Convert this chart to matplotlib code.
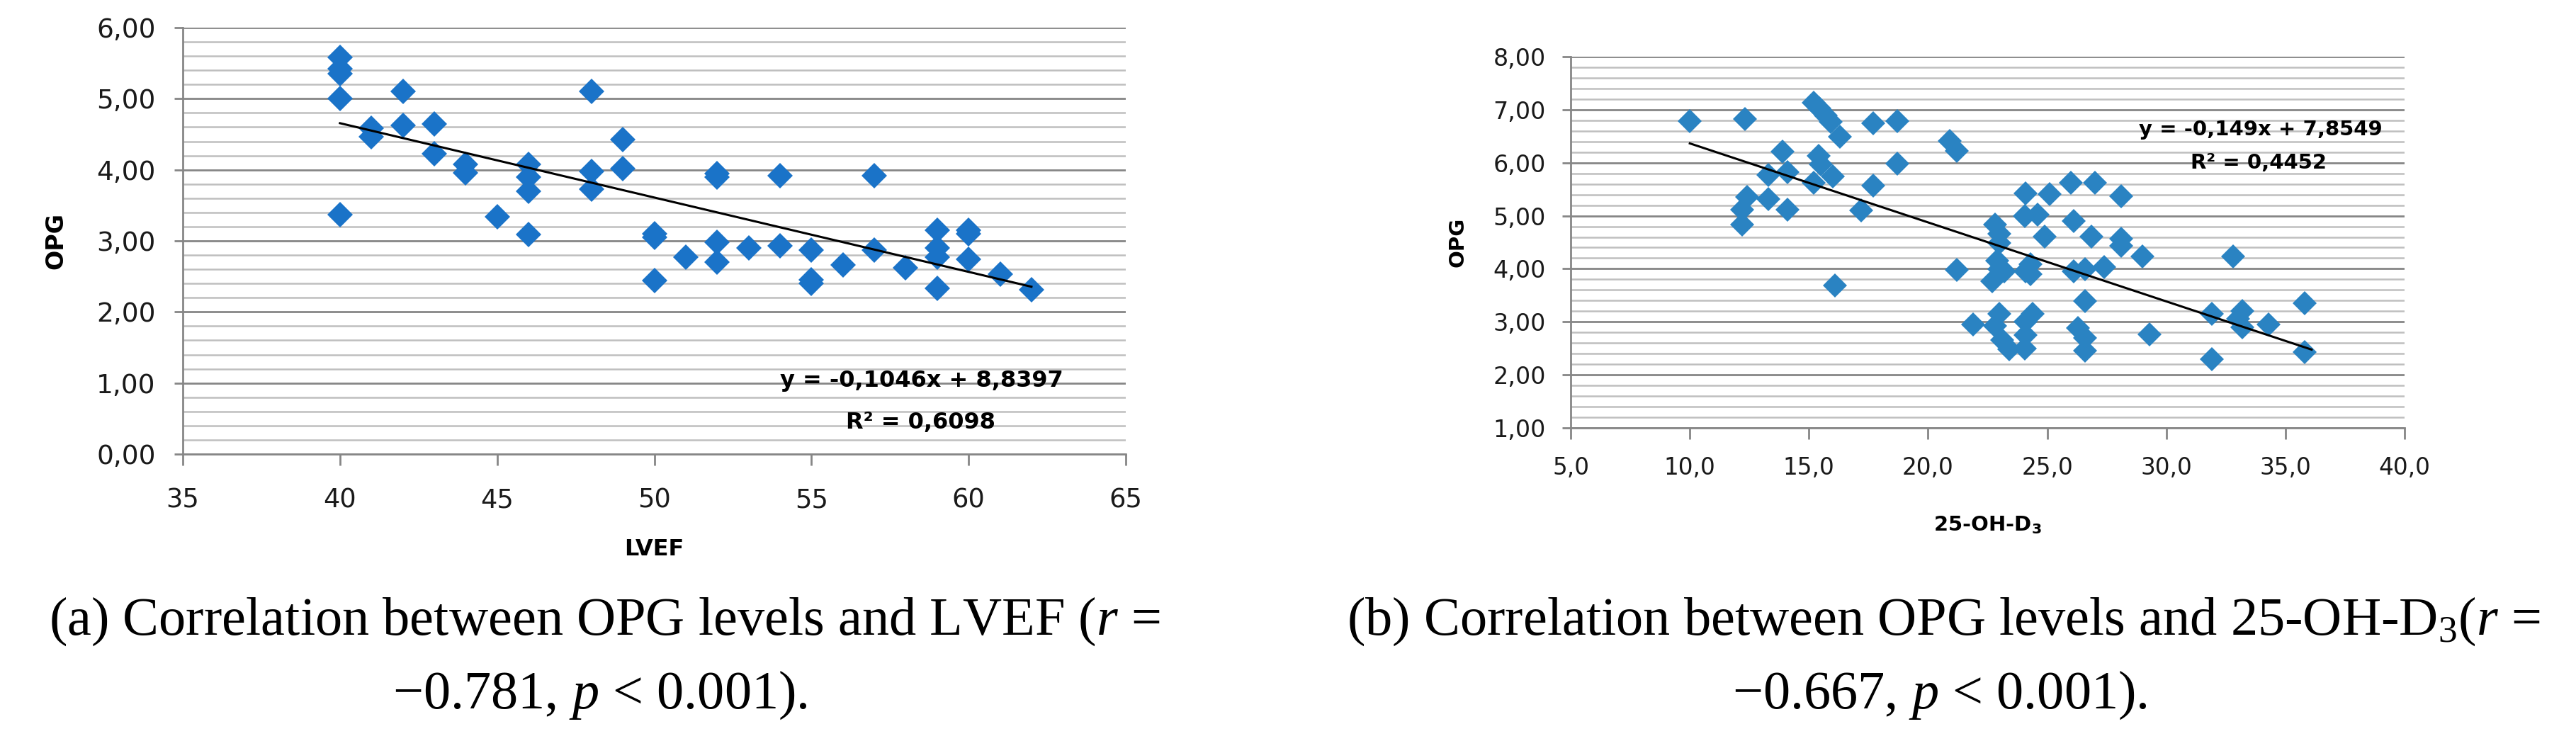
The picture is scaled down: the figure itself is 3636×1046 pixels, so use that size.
import matplotlib.pyplot as plt
from matplotlib.ticker import MultipleLocator, FuncFormatter

# (a) OPG vs LVEF
lvef = [40, 40, 40, 40, 40, 41, 41, 42, 42, 43, 43, 44, 44, 45, 46, 46, 46, 46,
        48, 48, 48, 49, 49, 50, 50, 50, 51, 52, 52, 52, 52, 53, 54, 54, 55, 55, 55,
        56, 57, 57, 58, 59, 59, 59, 59, 60, 60, 60, 61, 62]
opg_lvef = [5.58, 5.42, 5.35, 5.00, 3.37, 4.58, 4.47, 5.10, 4.62, 4.64, 4.23, 4.08, 3.96,
            3.34, 4.08, 3.90, 3.70, 3.09, 5.10, 3.98, 3.73, 4.43, 4.02, 3.10, 3.05, 2.44,
            2.77, 3.95, 3.90, 2.98, 2.70, 2.90, 3.92, 2.93, 2.87, 2.45, 2.40, 2.66, 3.92,
            2.87, 2.62, 3.15, 2.90, 2.77, 2.33, 3.15, 3.10, 2.74, 2.53, 2.31]

# (b) OPG vs 25-OH-D3
vitd = [10.0, 12.3, 15.2, 15.45, 15.7, 15.9, 16.3, 17.7, 18.7, 20.9, 21.2, 13.9, 15.4,
        15.5, 18.7, 13.3, 14.1, 15.2, 16.0, 17.7, 12.4, 13.3, 12.2, 14.1, 17.2, 12.2,
        16.1, 26.0, 27.0, 24.1, 25.1, 28.1, 24.06, 24.6, 26.1, 22.8, 23.0, 24.9, 26.85,
        28.1, 28.1, 23.0, 29.0, 21.2, 22.9, 23.0, 23.2, 22.7, 24.1, 24.3, 24.3, 26.1,
        26.6, 27.4, 26.6, 21.9, 23.0, 22.8, 23.1, 23.4, 24.4, 24.1, 24.1, 24.06, 26.3,
        26.6, 26.6, 29.3, 31.9, 31.9, 32.8, 33.2, 33.0, 33.2, 34.3, 35.8, 35.8]
opg_vitd = [6.78, 6.82, 7.13, 7.02, 6.89, 6.77, 6.49, 6.74, 6.78, 6.41, 6.22, 6.21, 6.13,
            5.97, 5.98, 5.77, 5.82, 5.62, 5.74, 5.57, 5.35, 5.31, 5.12, 5.11, 5.10, 4.83,
            3.68, 5.62, 5.62, 5.42, 5.41, 5.37, 4.99, 5.02, 4.90, 4.83, 4.66, 4.61, 4.61,
            4.57, 4.43, 4.48, 4.23, 3.98, 4.15, 3.99, 3.95, 3.76, 3.95, 4.08, 3.90, 3.95,
            3.99, 4.03, 3.39, 2.95, 3.15, 2.92, 2.66, 2.48, 3.15, 3.01, 2.75, 2.50, 2.88,
            2.70, 2.46, 2.76, 3.15, 2.30, 4.23, 3.21, 3.06, 2.90, 2.95, 3.35, 2.43]

fit_a = (-0.1046, 8.8397)
fit_b = (-0.149, 7.8549)

plt.rcParams['mathtext.fontset'] = 'custom'
plt.rcParams['mathtext.rm'] = 'Liberation Serif'
plt.rcParams['mathtext.it'] = 'Liberation Serif:italic'
plt.rcParams['mathtext.bf'] = 'DejaVu Sans:bold'

TICK_FONT = 'DejaVu Sans'
CAP_FONT = 'Liberation Serif'
GRID_MAJ = '#868686'
GRID_MIN = '#bfbfbf'

fig = plt.figure(figsize=(36.36, 10.46), dpi=100)
ax1 = fig.add_axes([0.07096, 0.38719, 0.36606, 0.57553])
ax2 = fig.add_axes([0.60974, 0.42256, 0.32371, 0.50096])


def style(ax, xfs, yfs, ypad, xpad, xfmt, yfmt):
    ax.set_axisbelow(True)
    ax.yaxis.set_major_locator(MultipleLocator(1))
    ax.yaxis.set_minor_locator(MultipleLocator(0.2))
    ax.grid(which='major', axis='y', color=GRID_MAJ, lw=2)
    ax.grid(which='minor', axis='y', color=GRID_MIN, lw=1.8)
    ax.grid(which='major', axis='x', visible=False)
    for s in ['top', 'right']:
        ax.spines[s].set_visible(False)
    for s in ['left', 'bottom']:
        ax.spines[s].set_color(GRID_MAJ)
        ax.spines[s].set_linewidth(2)
    ax.tick_params(axis='y', which='minor', length=0)
    ax.tick_params(axis='y', which='major', length=8.5, width=2, color=GRID_MAJ,
                   pad=ypad, labelsize=yfs, labelcolor='#1a1a1a')
    ax.tick_params(axis='x', which='major', length=11.5, width=2, color=GRID_MAJ,
                   pad=xpad, labelsize=xfs, labelcolor='#1a1a1a')
    ax.xaxis.set_major_formatter(FuncFormatter(xfmt))
    ax.yaxis.set_major_formatter(FuncFormatter(yfmt))
    for lab in ax.get_xticklabels() + ax.get_yticklabels():
        lab.set_fontfamily(TICK_FONT)


def comma(fmt):
    return lambda v, p: fmt.format(v).replace('.', ',')


# panel (a)
ax1.plot(lvef, opg_lvef, linestyle='none', marker='D', markersize=18.5,
         markeredgewidth=0, color='#1a73c8')
xa = [min(lvef), max(lvef)]
ax1.plot(xa, [fit_a[0] * v + fit_a[1] for v in xa], color='black', lw=2.2)
ax1.set_xlim(35, 65)
ax1.set_ylim(0, 6)
ax1.xaxis.set_major_locator(MultipleLocator(5))
style(ax1, 26.5, 27, 19, 22, lambda v, p: '{:.0f}'.format(v), comma('{:.2f}'))
ax1.text(58.5, 1.03, 'y = -0,1046x + 8,8397', ha='center', va='center',
         fontsize=23, fontweight='bold', family=TICK_FONT)
ax1.text(58.48, 0.44, 'R² = 0,6098', ha='center', va='center',
         fontsize=23, fontweight='bold', family=TICK_FONT)
ax1.set_ylabel('OPG', fontsize=24, fontweight='bold', family=TICK_FONT)
ax1.yaxis.set_label_coords(-0.1225, 0.5)
ax1.set_xlabel('LVEF', fontsize=23, fontweight='bold', family=TICK_FONT)
ax1.xaxis.set_label_coords(0.5, -0.2226)
ax1.xaxis.label.set_va('center')

# panel (b)
ax2.plot(vitd, opg_vitd, linestyle='none', marker='D', markersize=17,
         markeredgewidth=0, color='#2a83c2')
xb = [min(vitd), max(vitd) + 0.3]
ax2.plot(xb, [fit_b[0] * v + fit_b[1] for v in xb], color='black', lw=2.2)
ax2.set_xlim(5, 40)
ax2.set_ylim(1, 8)
ax2.xaxis.set_major_locator(MultipleLocator(5))
style(ax2, 23.5, 24, 17, 17, comma('{:.1f}'), comma('{:.2f}'))
ax2.text(33.96, 6.63, 'y = -0,149x + 7,8549', ha='center', va='center',
         fontsize=21, fontweight='bold', family=TICK_FONT)
ax2.text(33.87, 5.99, 'R² = 0,4452', ha='center', va='center',
         fontsize=21, fontweight='bold', family=TICK_FONT)
ax2.set_ylabel('OPG', fontsize=21, fontweight='bold', family=TICK_FONT)
ax2.yaxis.set_label_coords(-0.124, 0.5)
ax2.set_xlabel(r'25-OH-D$_\mathbf{3}$', fontsize=21, fontweight='bold', family=TICK_FONT)
ax2.xaxis.set_label_coords(0.5, -0.263)
ax2.xaxis.label.set_va('center')

# captions
cap = dict(ha='center', va='center', fontsize=55, family=CAP_FONT, color='black')
fig.text(0.2346, 0.1616, r'(a) Correlation between OPG levels and LVEF ($r$ =', **cap)
fig.text(0.233, 0.0621, '\u22120.781, $p$ < 0.001).', **cap)
fig.text(0.7544, 0.1616,
         r'(b) Correlation between OPG levels and 25-OH-D$_\mathrm{3}$($r$ =', **cap)
fig.text(0.753, 0.0621, '\u22120.667, $p$ < 0.001).', **cap)

fig.savefig('out.png', dpi=100)
